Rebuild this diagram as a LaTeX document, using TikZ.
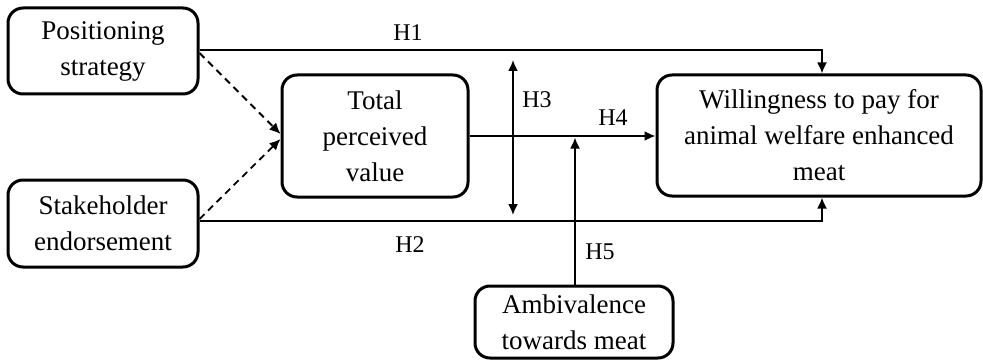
\documentclass[tikz,border=0pt]{standalone}
\usepackage{fontspec}
\setmainfont{Liberation Serif}
\usetikzlibrary{arrows.meta}
\begin{document}
\begin{tikzpicture}[x=1pt,y=-1pt,
  box/.style={draw, line width=3pt, rounded corners=15pt, align=center, inner sep=0pt,
    font=\fontsize{27}{36}\selectfont},
  conn/.style={line width=1.8pt, -{Latex[length=11pt,width=10pt]}},
  dconn/.style={conn, dash pattern=on 7pt off 5pt},
  hlab/.style={font=\fontsize{24}{28}\selectfont, inner sep=0pt}]
\useasboundingbox (0,0) rectangle (983,361);
\node[box, minimum width=190pt, minimum height=86pt] (pos) at (103,51) {Positioning\\strategy};
\node[box, minimum width=190pt, minimum height=87pt] (stake) at (103,223.5) {Stakeholder\\endorsement};
\node[box, minimum width=186pt, minimum height=122pt] (tpv) at (375,136) {Total\\perceived\\value};
\node[box, minimum width=324pt, minimum height=121pt] (wtp) at (819,135.5) {Willingness to pay for\\animal welfare enhanced\\meat};
\node[box, minimum width=198pt, minimum height=72pt] (amb) at (574,322) {Ambivalence\\towards meat};
% H1 and H2
\draw[conn] (pos.east |- 0,50) -| (wtp.north -| 822,0);
\draw[conn] (stake.east |- 0,221) -| (wtp.south -| 822,0);
% dashed
\draw[dconn] (pos.east |- 0,53) -- (tpv.west |- 0,134);
\draw[dconn] (stake.east |- 0,219) -- (tpv.west |- 0,139);
% H4
\draw[conn] (tpv.east) -- (wtp.west |- tpv.east);
% H3
\coordinate (h3t) at (513,60);
\coordinate (h3b) at (513,215);
\draw[line width=1.8pt, {Latex[length=11pt,width=10pt]}-{Latex[length=11pt,width=10pt]}] (h3t) -- (h3b);
% H5
\coordinate (h5e) at (575,137.5);
\draw[conn] (amb.north -| h5e) -- (h5e);
% labels
\node[hlab] (l1) at (408,33) {H1};
\node[hlab] (l2) at (410,245) {H2};
\node[hlab] (l3) at (537,100) {H3};
\node[hlab] (l4) at (613,118) {H4};
\node[hlab] (l5) at (600,252) {H5};
\end{tikzpicture}
\end{document}
